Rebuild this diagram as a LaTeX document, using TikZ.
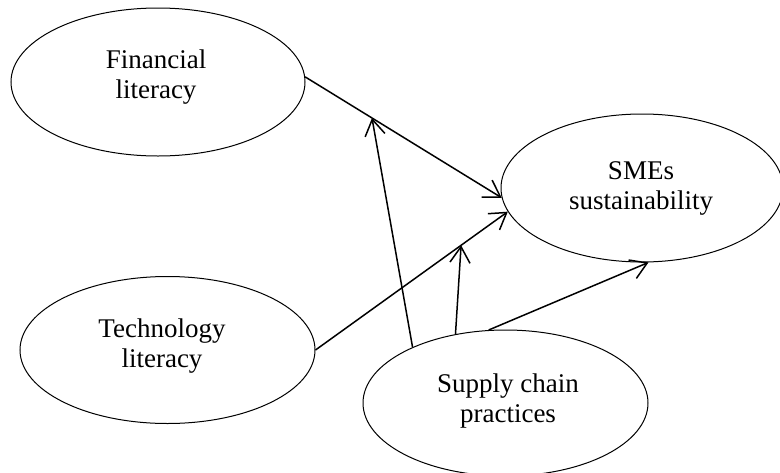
\documentclass[tikz,border=0pt]{standalone}
\usepackage{fontspec}
\setmainfont{Liberation Serif}
\usetikzlibrary{shapes.geometric,arrows.meta}
\tikzset{
  construct/.style={ellipse, draw, line width=1pt, inner sep=0pt},
  caption/.style={align=center, inner sep=0pt, font=\fontsize{27}{30}\selectfont},
  path arrow/.style={line width=1.5pt, -{Straight Barb[length=16pt,width=20pt,line width=1.5pt]}}
}
\begin{document}
\begin{tikzpicture}[x=1pt,y=-1pt]
\useasboundingbox (0,0) rectangle (780,472);
\clip (0,0) rectangle (780,472);

% latent constructs
\node[construct, minimum width=294pt, minimum height=148pt] (fin) at (158,82) {};
\node[construct, minimum width=295pt, minimum height=147pt] (tech) at (167.5,350) {};
\node[construct, minimum width=282pt, minimum height=148pt] (sme) at (642,188) {};
\node[construct, minimum width=285pt, minimum height=146pt] (scp) at (505.5,403) {};

% construct names
\node[caption] (fin-t) at (156,77) {Financial\\literacy};
\node[caption] (tech-t) at (162,346) {Technology\\literacy};
\node[caption] (sme-t) at (641,188) {SMEs\\sustainability};
\node[caption] (scp-t) at (508,401) {Supply chain\\practices};

% direct effects
\draw[path arrow] (fin.2) -- coordinate[pos=0.34] (mod1) (sme.184);
\draw[path arrow] (tech.east) -- coordinate[pos=0.757] (mod2) (sme.190);
\draw[path arrow] (scp.103) -- (sme.275);

% moderating effects
\draw[path arrow] (scp.149) -- (mod1);
\draw[path arrow] (scp.126) -- (mod2);
\end{tikzpicture}
\end{document}
